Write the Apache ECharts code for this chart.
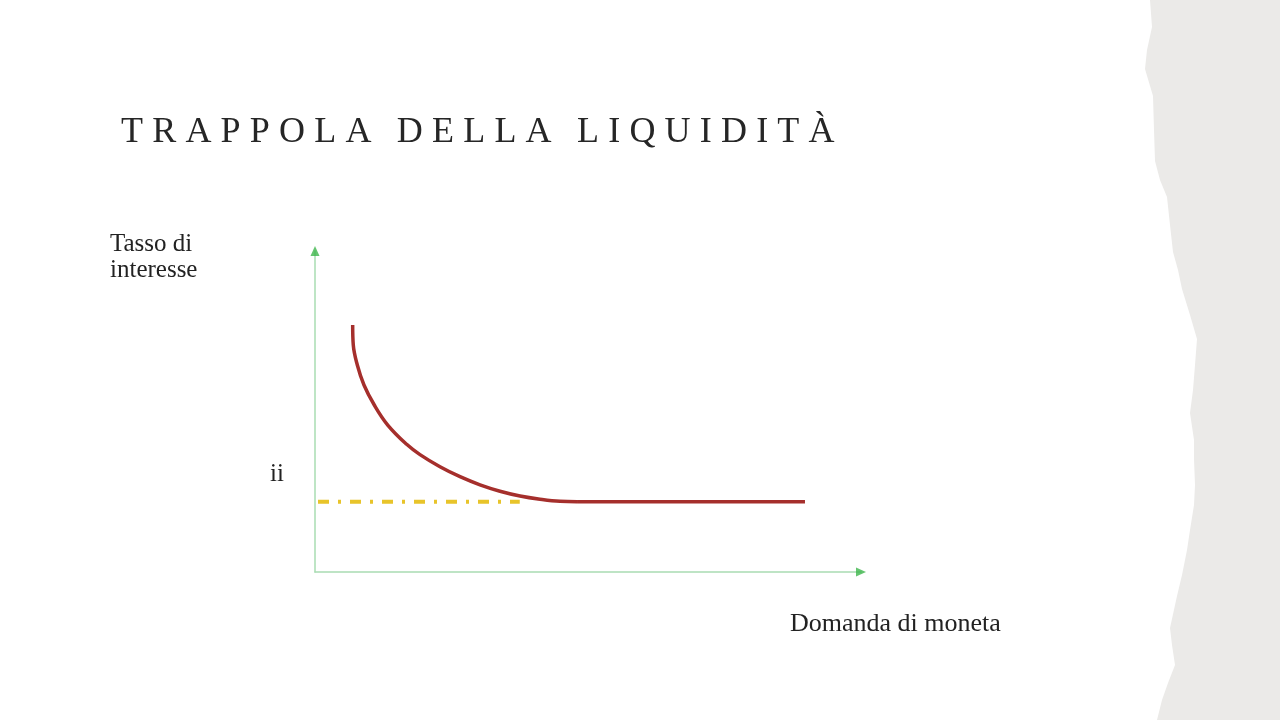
<!DOCTYPE html>
<html>
<head>
<meta charset="utf-8">
<script src="https://cdn.jsdelivr.net/npm/echarts@6/dist/echarts.min.js"></script>
<style>
  html, body { margin:0; padding:0; background:#ffffff; }
  #wrap { position:relative; width:1280px; height:720px; overflow:hidden; }
  #chart { position:absolute; left:0; top:0; width:1280px; height:720px; }
  #title { position:absolute; left:121px; top:112px; margin:0; font-family:"Liberation Serif","DejaVu Serif",serif;
           font-weight:normal; font-size:36px; line-height:36px; letter-spacing:9.2px; color:#262626; white-space:nowrap; }
</style>
</head>
<body>
<div id="wrap">
  <div id="chart"></div>
  <h1 id="title">TRAPPOLA DELLA LIQUIDITÀ</h1>
</div>
<script>
// Data (axis units 0..100)
const curveX = [6.90, 7.01, 7.75, 8.97, 10.86, 13.32, 16.79, 19.23, 22.89, 26.56, 30.22, 33.88, 37.55, 41.21, 44.87, 47.99];
const curveY = [76.95, 70.72, 64.49, 58.26, 52.02, 45.79, 39.78, 36.57, 32.80, 29.69, 27.16, 25.17, 23.68, 22.68, 22.02, 21.9];
const trapX = [47.99, 89.74];
const trapY = [21.9, 21.9];
const refX = [0.55, 37.5];
const refY = [21.9, 21.9];
const yLabel = 'Tasso di\ninteresse';
const xLabel = 'Domanda di moneta';
const levelLabel = 'ii';

const zip = (a, b) => a.map((v, i) => [v, b[i]]);

const torn = [[1150,0],[1152,27],[1147,50],[1145,69],[1153,96],[1154,130],[1155,161],[1160,180],[1167,197],[1170,225],[1173,252],[1178,270],[1182,289],[1190,315],[1197,339],[1195,365],[1193,390],[1190,413],[1194,440],[1194,459],[1195,485],[1194,505],[1190,530],[1187,550],[1182,575],[1177,596],[1170,628],[1172,645],[1175,665],[1168,683],[1162,700],[1157,720],[1280,720],[1280,0]];

const chart = echarts.init(document.getElementById('chart'));
const serif = '"Liberation Serif","DejaVu Serif",serif';
const axisColor = '#a9dcb2';
chart.setOption({
  backgroundColor: '#ffffff',
  animation: false,
  grid: { left: 315, right: 419, top: 251, bottom: 148 },
  xAxis: {
    type: 'value', min: 0, max: 100,
    axisLine: { show: true, onZero: false, lineStyle: { color: axisColor, width: 1.5 } },
    axisTick: { show: false }, axisLabel: { show: false }, splitLine: { show: false }
  },
  yAxis: {
    type: 'value', min: 0, max: 100,
    axisLine: { show: true, onZero: false, lineStyle: { color: axisColor, width: 1.5 } },
    axisTick: { show: false }, axisLabel: { show: false }, splitLine: { show: false }
  },
  graphic: [
    { type: 'polygon', z: -10, shape: { points: torn }, style: { fill: '#ebeae8' } },
    { type: 'text', left: 110, top: 231, style: { text: yLabel, font: '25px ' + serif, fill: '#222', lineHeight: 26 } },
    { type: 'text', left: 790, top: 611, style: { text: xLabel, font: '26px ' + serif, fill: '#222' } },
    { type: 'text', left: 270, top: 462, style: { text: levelLabel, font: '25px ' + serif, fill: '#222' } }
  ],
  series: [
    { type: 'line', data: zip(refX, refY), symbol: 'none', z: 2,
      lineStyle: { color: '#e8c42a', width: 4, type: [11, 9, 3, 9] } },
    { type: 'line', data: zip(curveX, curveY), smooth: 0.4, symbol: 'none', z: 3,
      lineStyle: { color: '#a52f2c', width: 3.5 } },
    { type: 'line', data: zip(trapX, trapY), symbol: 'none', z: 3,
      lineStyle: { color: '#a52f2c', width: 3.5 } },
    { type: 'scatter', data: [[100, 0]], symbol: 'triangle', symbolRotate: -90, symbolSize: [9, 10],
      itemStyle: { color: '#3db54b' }, silent: true, z: 4 },
    { type: 'scatter', data: [[0, 100]], symbol: 'triangle', symbolSize: [9, 10],
      itemStyle: { color: '#3db54b' }, silent: true, z: 4 }
  ]
});
</script>
</body>
</html>
